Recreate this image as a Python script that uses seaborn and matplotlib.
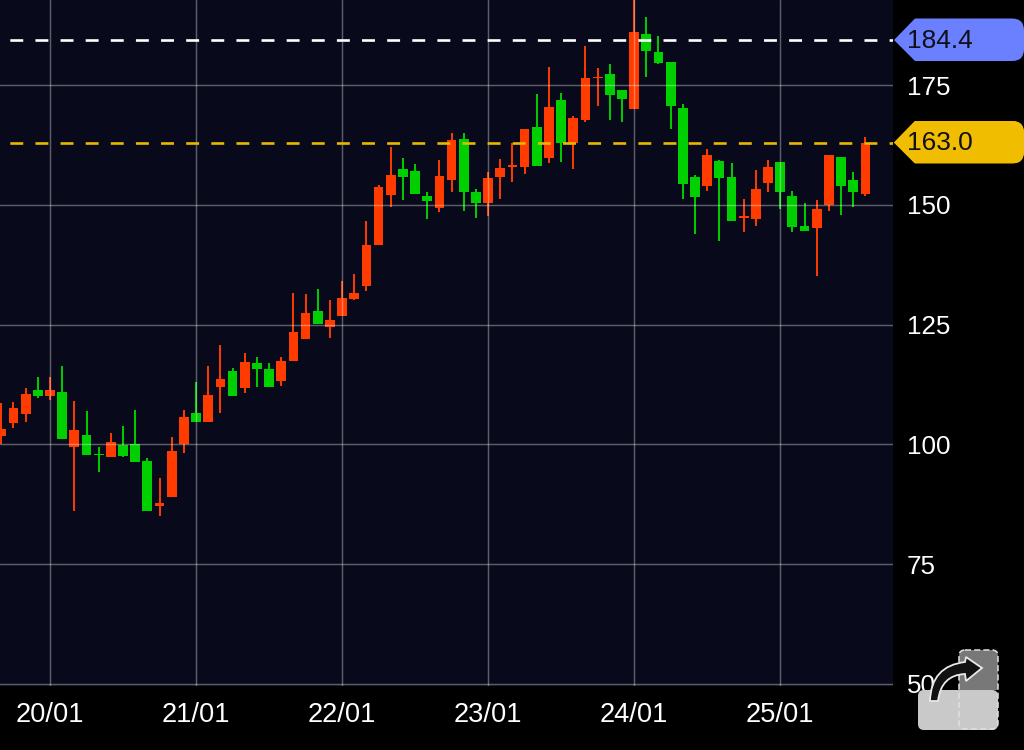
import numpy as np
import pandas as pd
import seaborn as sns
import matplotlib.pyplot as plt
from matplotlib.colors import LinearSegmentedColormap
from matplotlib.path import Path
from matplotlib.patches import PathPatch, FancyBboxPatch, Rectangle

# candles, 12 per day
opens = [101.8, 104.4, 106.4, 111.3, 110.2, 111.0, 99.5, 102.0, 97.9, 97.4, 99.8, 100.0,
         96.5, 87.2, 89.0, 100.0, 106.5, 104.7, 112.0, 115.3, 111.7, 116.9, 115.7, 113.3,
         117.4, 122.0, 127.8, 124.4, 126.7, 130.3, 133.0, 141.6, 152.1, 157.5, 157.1, 151.9,
         149.4, 155.1, 163.7, 152.7, 150.4, 155.8, 157.8, 157.9, 166.3, 159.8, 171.9, 162.8,
         167.7, 176.5, 177.2, 173.9, 170.0, 185.6, 181.9, 179.9, 170.1, 155.8, 154.0, 159.2,
         155.9, 147.3, 147.0, 154.6, 159.0, 151.9, 145.6, 145.1, 150.0, 159.9, 155.1, 152.3]
highs = [108.6, 108.9, 111.8, 114.1, 114.1, 116.4, 109.1, 107.0, 99.5, 102.3, 103.8, 107.2,
         97.1, 92.9, 101.5, 107.2, 113.1, 116.4, 120.7, 116.0, 119.0, 118.3, 117.0, 118.3,
         131.5, 131.4, 132.4, 130.1, 134.0, 135.5, 146.7, 154.1, 162.0, 159.7, 158.5, 152.7,
         159.3, 164.9, 164.9, 153.3, 156.9, 159.6, 162.8, 165.8, 173.1, 178.7, 173.3, 168.6,
         183.2, 178.5, 179.3, 174.0, 194.0, 189.1, 185.3, 179.9, 171.0, 156.2, 161.6, 159.3,
         158.7, 151.3, 157.3, 159.4, 159.0, 152.9, 150.3, 151.0, 160.4, 160.0, 156.8, 164.1]
lows = [100.1, 103.4, 104.7, 109.6, 109.3, 101.1, 86.2, 97.7, 94.3, 97.4, 97.4, 96.4,
        86.0, 85.1, 89.0, 98.1, 104.7, 104.7, 106.5, 110.2, 110.7, 112.0, 112.0, 112.2,
        117.4, 122.0, 125.1, 122.1, 126.7, 130.1, 132.0, 141.6, 149.6, 150.9, 152.2, 147.0,
        148.4, 152.7, 148.7, 147.3, 147.7, 151.2, 154.7, 156.4, 158.1, 158.7, 159.0, 157.5,
        167.3, 170.7, 167.7, 167.3, 170.0, 176.7, 179.3, 165.9, 151.2, 143.9, 152.8, 142.5,
        146.7, 144.4, 145.6, 152.6, 149.1, 144.4, 144.6, 135.1, 148.8, 147.9, 149.6, 151.8]
closes = [103.2, 107.5, 110.5, 110.2, 111.4, 101.1, 103.0, 97.7, 97.7, 100.6, 97.6, 96.4,
          86.0, 87.8, 98.6, 105.7, 104.7, 110.3, 113.6, 110.2, 117.1, 115.7, 112.0, 117.4,
          123.4, 127.4, 125.1, 125.9, 130.6, 131.6, 141.7, 153.7, 156.2, 155.7, 152.2, 150.7,
          156.1, 163.5, 152.7, 150.4, 155.5, 157.7, 158.3, 165.8, 158.1, 170.4, 162.8, 168.2,
          176.5, 176.7, 173.0, 172.1, 186.1, 182.2, 179.6, 170.7, 154.3, 151.7, 160.3, 155.6,
          146.7, 147.7, 153.2, 157.9, 152.6, 145.3, 144.6, 149.2, 160.3, 153.9, 152.6, 162.8]

day_ticks = [4, 16, 28, 40, 52, 64]
day_labels = ['20/01', '21/01', '22/01', '23/01', '24/01', '25/01']
price_ticks = [50, 75, 100, 125, 150, 175]
level_blue = 184.4
level_gold = 163.0

BG = '#080a1c'
RED = '#ff3b00'
GREEN = '#00cf00'

sns.set_style('dark', rc={'figure.facecolor': 'black', 'axes.facecolor': BG})
plt.rcParams['font.family'] = ['Liberation Sans', 'DejaVu Sans']

df = pd.DataFrame({'i': np.arange(len(opens)), 'open': opens, 'high': highs, 'low': lows, 'close': closes})
df['up'] = df['close'] >= df['open']
df['bottom'] = df[['open', 'close']].min(axis=1)
df['height'] = (df['close'] - df['open']).abs()

fig = plt.figure(figsize=(10.24, 7.5), dpi=100)
ax = fig.add_axes([0, 1 - 686 / 750, 893 / 1024, 686 / 750])

# wicks
ax.vlines(df['i'], df['low'], df['high'], colors=[RED if u else GREEN for u in df['up']],
          linewidth=1.4, zorder=1)
# bodies
for up, color in [(True, RED), (False, GREEN)]:
    part = df[df['up'] == up]
    sns.barplot(data=part, x='i', y='height', bottom=part['bottom'].values, native_scale=True,
                color=color, saturation=1, errorbar=None, linewidth=0, width=0.8, ax=ax, zorder=1)

ax.set_xlim(-0.108, 73.27)
ax.set_ylim(49.58, 192.74)
ax.set_xlabel('')
ax.set_ylabel('')
ax.set_xticks(day_ticks, day_labels)
ax.set_yticks(price_ticks)
ax.yaxis.tick_right()
ax.tick_params(axis='both', length=0, labelcolor='white')
ax.tick_params(axis='x', pad=11.5, labelsize=19.6)
ax.tick_params(axis='y', pad=10, labelsize=18.7)
ax.set_axisbelow(False)
ax.grid(True, color='white', alpha=0.34, linewidth=1.05)
for s in ax.spines.values():
    s.set_visible(False)

# dashed price levels
ax.axhline(level_blue, color='white', linewidth=1.9, linestyle=(5.8, (4.9, 4.62)), zorder=3)
ax.axhline(level_gold, color='#e6b800', linewidth=1.9, linestyle=(5.8, (4.9, 4.62)), zorder=3)

# overlay in pixel coordinates for the price tags and the icon
ov = fig.add_axes([0, 0, 1, 1], zorder=5)


def price_tag(yc, color, label, color_bottom=None):
    t, b = yc - 21.5, yc + 21
    verts = [(894, yc), (915, t), (1012, t), (1024, t), (1024, t + 12), (1024, b - 12),
             (1024, b), (1012, b), (915, b), (894, yc)]
    codes = [Path.MOVETO, Path.LINETO, Path.LINETO, Path.CURVE3, Path.CURVE3, Path.LINETO,
             Path.CURVE3, Path.CURVE3, Path.LINETO, Path.CLOSEPOLY]
    patch = PathPatch(Path(verts, codes), facecolor=color, edgecolor='none')
    ov.add_patch(patch)
    if color_bottom is not None:
        cmap = LinearSegmentedColormap.from_list('tag', [color, color_bottom])
        im = ov.imshow(np.linspace(0, 1, 40).reshape(-1, 1), extent=(894, 1024, b, t), cmap=cmap, aspect='auto')
        im.set_clip_path(patch)
    ov.text(907, yc + 0.5, label, color='#10101c', fontsize=19, va='center', ha='left', zorder=4)


price_tag(40, '#6a80ff', f'{level_blue:.1f}')
price_tag(142.5, '#f0bd00', f'{level_gold:.1f}', '#daa400')

# little switch icon, bottom right
ov.add_patch(FancyBboxPatch((922, 694), 72, 32, boxstyle='round,pad=4,rounding_size=6',
                            facecolor='#c9c9c9', edgecolor='none'))
ov.add_patch(FancyBboxPatch((963, 654), 31, 32, boxstyle='round,pad=4,rounding_size=6',
                            facecolor='#787878', edgecolor='none'))
ov.add_patch(Rectangle((959, 680), 39, 10, facecolor='#787878', edgecolor='none'))
ov.add_patch(FancyBboxPatch((963, 654), 31, 71, boxstyle='round,pad=4,rounding_size=6',
                            facecolor='none', edgecolor='#e0e0e0', linewidth=1.1, linestyle=(0, (4, 2))))
arrow_verts = [(930, 701), (931, 666), (965, 662), (966, 657), (982, 668), (966, 681), (965, 674),
               (941, 675), (938, 701), (930, 701)]
arrow_codes = [Path.MOVETO, Path.CURVE3, Path.CURVE3, Path.LINETO, Path.LINETO, Path.LINETO, Path.LINETO,
               Path.CURVE3, Path.CURVE3, Path.CLOSEPOLY]
ov.add_patch(PathPatch(Path(arrow_verts, arrow_codes), facecolor='#111111', edgecolor='#e8e8e8', linewidth=1.3))

ov.set_xlim(0, 1024)
ov.set_ylim(750, 0)
ov.axis('off')

fig.savefig('out.png', dpi=100, facecolor='black')
